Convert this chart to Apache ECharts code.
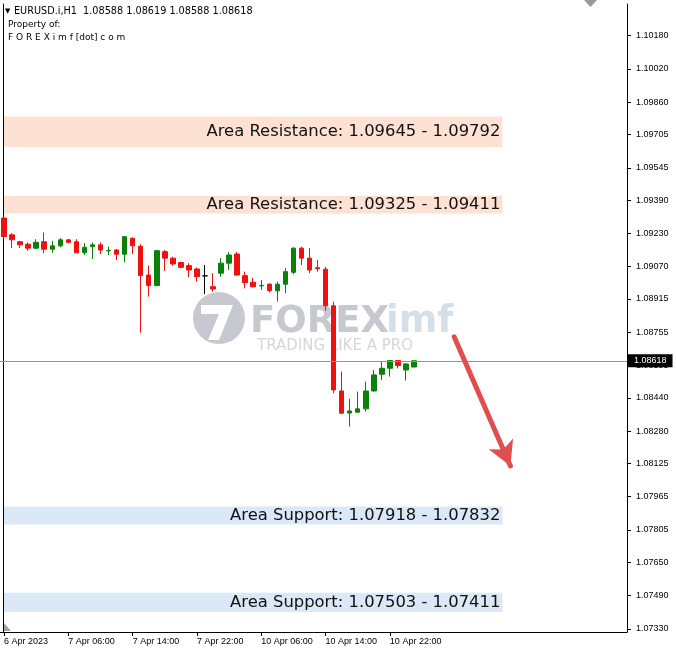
<!DOCTYPE html>
<html><head><meta charset="utf-8">
<script src="https://cdn.jsdelivr.net/npm/echarts@6/dist/echarts.min.js"></script>
<style>html,body{margin:0;padding:0;background:#fff}#c{width:676px;height:653px}</style>
</head><body><div id="c"></div>
<script>
// ---- data ----
const categories = [
  '6 Apr 2023','6 Apr 23:00',
  '7 Apr 00:00','7 Apr 01:00','7 Apr 02:00','7 Apr 03:00','7 Apr 04:00','7 Apr 05:00',
  '7 Apr 06:00','7 Apr 07:00','7 Apr 08:00','7 Apr 09:00','7 Apr 10:00','7 Apr 11:00',
  '7 Apr 12:00','7 Apr 13:00','7 Apr 14:00','7 Apr 15:00','7 Apr 16:00','7 Apr 17:00',
  '7 Apr 18:00','7 Apr 19:00','7 Apr 20:00','7 Apr 21:00','7 Apr 22:00','7 Apr 23:00',
  '10 Apr 00:00','10 Apr 01:00','10 Apr 02:00','10 Apr 03:00','10 Apr 04:00','10 Apr 05:00',
  '10 Apr 06:00','10 Apr 07:00','10 Apr 08:00','10 Apr 09:00','10 Apr 10:00','10 Apr 11:00',
  '10 Apr 12:00','10 Apr 13:00','10 Apr 14:00','10 Apr 15:00','10 Apr 16:00','10 Apr 17:00',
  '10 Apr 18:00','10 Apr 19:00','10 Apr 20:00','10 Apr 21:00','10 Apr 22:00','10 Apr 23:00',
  '11 Apr 00:00','11 Apr 01:00'
];
const opens = [
  1.09304,1.09223,1.09190,1.09178,1.09159,1.09190,1.09154,1.09170,1.09199,1.09190,
  1.09137,1.09166,1.09175,1.09146,1.09150,1.09130,1.09207,1.09168,1.09030,1.08979,
  1.09142,1.09111,1.09090,1.09075,1.09059,1.09026,1.08974,1.09039,1.09087,1.09131,
  1.09027,1.08995,1.08978,1.08986,1.08954,1.08986,1.09043,1.09159,1.09111,1.09065,
  1.09058,1.08882,1.08473,1.08367,1.08371,1.08387,1.08473,1.08553,1.08582,1.08619,
  1.08574,1.08588
];
const highs = [
  1.09309,1.09231,1.09194,1.09186,1.09202,1.09234,1.09194,1.09207,1.09203,1.09202,
  1.09183,1.09186,1.09186,1.09166,1.09155,1.09216,1.09211,1.09178,1.09076,1.09150,
  1.09150,1.09118,1.09094,1.09087,1.09066,1.09078,1.09039,1.09111,1.09140,1.09140,
  1.09046,1.09017,1.09006,1.08991,1.08998,1.09063,1.09163,1.09166,1.09159,1.09102,
  1.09070,1.08902,1.08566,1.08435,1.08470,1.08518,1.08574,1.08614,1.08622,1.08622,
  1.08606,1.08619
];
const lows = [
  1.09203,1.09159,1.09159,1.09147,1.09154,1.09135,1.09137,1.09163,1.09183,1.09135,
  1.09126,1.09107,1.09131,1.09126,1.09102,1.09091,1.09131,1.08753,1.08926,1.08978,
  1.09050,1.09075,1.09063,1.09019,1.08998,1.08938,1.08950,1.09022,1.09054,1.09027,
  1.08966,1.08969,1.08958,1.08947,1.08902,1.08943,1.09034,1.09078,1.09039,1.09046,
  1.08858,1.08462,1.08366,1.08302,1.08371,1.08374,1.08470,1.08526,1.08542,1.08582,
  1.08523,1.08588
];
const closes = [
  1.09214,1.09199,1.09175,1.09159,1.09187,1.09154,1.09170,1.09199,1.09187,1.09137,
  1.09163,1.09175,1.09150,1.09148,1.09130,1.09214,1.09170,1.09028,1.08980,1.09147,
  1.09111,1.09083,1.09067,1.09054,1.09022,1.09026,1.08963,1.09087,1.09126,1.09030,
  1.08993,1.08974,1.08980,1.08955,1.08986,1.09046,1.09159,1.09111,1.09054,1.09060,
  1.08882,1.08478,1.08366,1.08377,1.08387,1.08473,1.08550,1.08582,1.08619,1.08595,
  1.08603,1.08618
];
const yTickLabels = ['1.10180','1.10020','1.09860','1.09705','1.09545','1.09390','1.09230',
  '1.09070','1.08915','1.08755','1.08595','1.08440','1.08280','1.08125','1.07965',
  '1.07805','1.07650','1.07490','1.07330'];
const resistanceZones = [[1.09645, 1.09792], [1.09325, 1.09411]];
const supportZones = [[1.07918, 1.07832], [1.07503, 1.07411]];
const currentPrice = 1.08618;
const headerSymbol = 'EURUSD.i,H1';
const headerOHLC = ['1.08588', '1.08619', '1.08588', '1.08618'];
const arrowFrom = [56, 1.08733];
const arrowTo = [63, 1.08113];
const zoneStart = 0;
const zoneEnd = 62;
const emptySlots = 26;

// ---- chart ----
const axisCats = categories.concat(new Array(emptySlots).fill(''));
const candles = opens.map((o, i) => [o, closes[i], lows[i], highs[i]]);
const showCat = (idx, val) => val !== '' && idx % 8 === 0;
const numFont = 'Liberation Sans';

function zone(pair, label, fill) {
  return [
    { xAxis: zoneStart, yAxis: pair[0], itemStyle: { color: fill },
      label: { show: true, position: 'insideRight', distance: 2,
        formatter: label + ': ' + pair[0].toFixed(5) + ' - ' + pair[1].toFixed(5),
        color: '#111', fontSize: 16.4, fontFamily: 'DejaVu Sans' } },
    { xAxis: zoneEnd, yAxis: pair[1] }
  ];
}

const chart = echarts.init(document.getElementById('c'), null, { renderer: 'canvas' });
chart.setOption({
  animation: false,
  backgroundColor: '#ffffff',
  grid: { left: 0, right: 49, top: 4, bottom: 21 },
  xAxis: {
    type: 'category', data: axisCats, boundaryGap: true,
    axisLine: { show: true, lineStyle: { color: '#000', width: 1 } },
    axisTick: { show: true, interval: showCat, alignWithLabel: true, length: 4, lineStyle: { color: '#000' } },
    axisLabel: { interval: showCat, align: 'left', margin: 5, color: '#000', fontSize: 9, fontFamily: numFont },
    splitLine: { show: false }
  },
  yAxis: [{
    type: 'value', position: 'right', scale: true,
    min: 1.07315, max: 1.10332,
    axisLine: { show: true, lineStyle: { color: '#000', width: 1 } },
    axisTick: { show: true, length: 4, customValues: yTickLabels.map(Number), lineStyle: { color: '#000' } },
    axisLabel: { customValues: yTickLabels.map(Number), formatter: v => v.toFixed(5),
      margin: 9, color: '#000', fontSize: 9, fontFamily: numFont },
    splitLine: { show: false }
  }, {
    type: 'value', position: 'left', offset: -3, min: 1.07315, max: 1.10332,
    axisLine: { show: true, lineStyle: { color: '#000', width: 1 } },
    axisTick: { show: false }, axisLabel: { show: false }, splitLine: { show: false }
  }],
  graphic: [
    { type: 'text', x: 5, y: 11, z: 10, style: { text: '\u25BC', font: '7px DejaVu Sans', fill: '#000', verticalAlign: 'middle' } },
    { type: 'text', x: 14, y: 11, z: 10, style: { text: headerSymbol + '  ' + headerOHLC.join(' '), font: '9.7px "DejaVu Sans"', fill: '#000', verticalAlign: 'middle' } },
    { type: 'text', x: 8, y: 25, z: 10, style: { text: 'Property of:', font: '9px "DejaVu Sans"', fill: '#000', verticalAlign: 'middle' } },
    { type: 'text', x: 8, y: 38, z: 10, style: { text: 'F O R E X i m f [dot] c o m', font: '9px "DejaVu Sans"', fill: '#000', verticalAlign: 'middle' } },
    // MT4 shift markers
    { type: 'polygon', z: 10, shape: { points: [[584, 0], [597, 0], [590.5, 7]] }, style: { fill: '#9a9a9a' } },
    { type: 'polygon', z: 10, shape: { points: [[4, 623], [4, 631], [11, 631]] }, style: { fill: '#a0a0a0' } },
    // watermark
    { type: 'circle', z: 1, shape: { cx: 219, cy: 318, r: 26 }, style: { fill: '#c7c8d0' } },
    { type: 'polygon', z: 1, shape: { points: [[201,305],[233,305],[219,340],[208,340],[219,314],[201,314]] }, style: { fill: '#ffffff' } },
    { type: 'text', z: 1, x: 250, y: 322, style: { text: 'FOREX', font: 'bold 37px "DejaVu Sans"', fill: '#c7c8d0', verticalAlign: 'middle' } },
    { type: 'text', z: 1, x: 386, y: 322, style: { text: 'imf', font: 'bold 37px "DejaVu Sans"', fill: '#d5dfea', verticalAlign: 'middle' } },
    { type: 'text', z: 1, x: 257, y: 346, style: { text: 'TRADING LIKE A PRO', font: '15px "DejaVu Sans"', fill: '#d6d6dc', verticalAlign: 'middle' } }
  ],
  series: [{
    type: 'candlestick', data: candles, barWidth: 5, z: 2,
    itemStyle: { color: '#0a820a', color0: '#ee1111', borderColor: '#0a820a', borderColor0: '#ee1111', borderColorDoji: '#000', borderWidth: 1 },
    markArea: {
      silent: true,
      data: [
        zone(resistanceZones[0], 'Area Resistance', '#fde2d4'),
        zone(resistanceZones[1], 'Area Resistance', '#fde2d4'),
        zone(supportZones[0], 'Area Support', '#dae8f7'),
        zone(supportZones[1], 'Area Support', '#dae8f7')
      ]
    },
    markLine: {
      silent: true, symbol: ['none', 'none'], precision: 5,
      data: [
        { yAxis: currentPrice, lineStyle: { color: '#8a969e', width: 1, type: 'solid' },
          label: { show: true, position: 'end', distance: 1, formatter: currentPrice.toFixed(5),
            backgroundColor: '#000', color: '#fff', padding: [2, 6, 2, 6], fontSize: 9, fontFamily: numFont } },
        [
          { coord: arrowFrom, symbol: 'none', lineStyle: { color: '#e04e4e', width: 5, type: 'solid', cap: 'round' }, label: { show: false } },
          { coord: arrowTo, symbol: 'arrow', symbolSize: [20, 24] }
        ]
      ]
    }
  }]
});
</script></body></html>
